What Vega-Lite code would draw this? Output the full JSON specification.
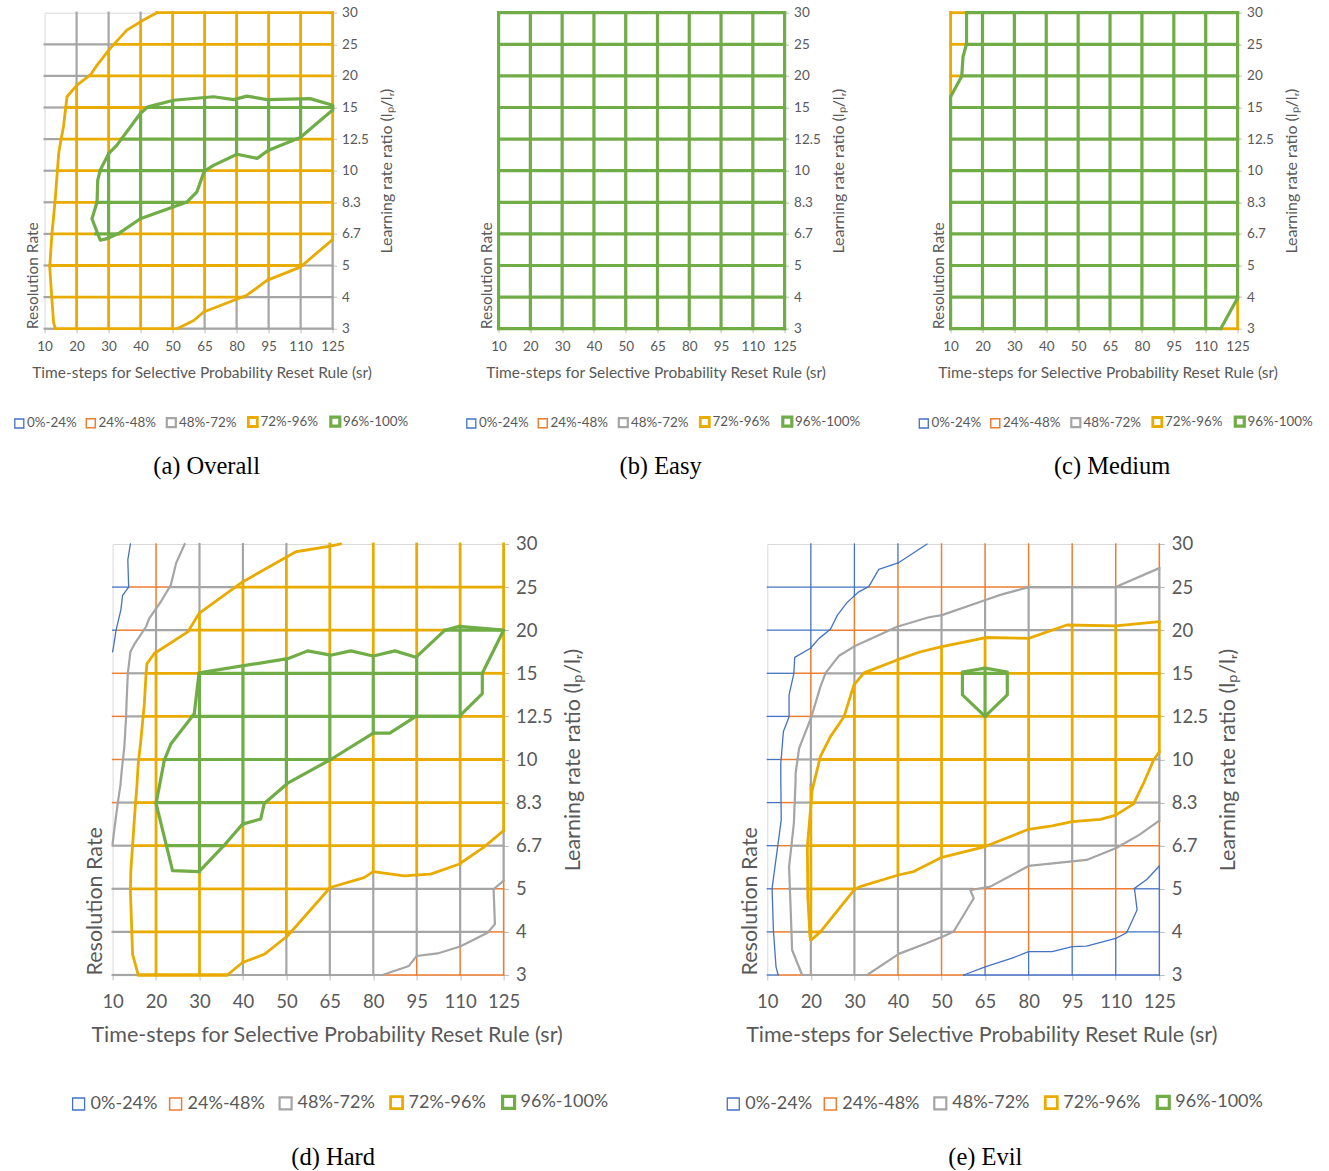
{
"$schema":"https://vega.github.io/schema/vega-lite/v6.json",
"padding":{"left":11.6,"top":4.7,"right":0,"bottom":0},
"background":"white",
"bounds":"flush",
"spacing":531.3,
"resolve":{"legend":{"color":"independent","strokeWidth":"independent"}},
"datasets":{
"ga":[
{"o":"h","k":0,"s":0,"e":0.33,"b":"G"},{"o":"h","k":0,"s":0.33,"e":4.14,"b":"Y"},{"o":"h","k":0,"s":4.14,"e":9,"b":"G"},
{"o":"h","k":1,"s":0,"e":0.25,"b":"G"},{"o":"h","k":1,"s":0.25,"e":6.25,"b":"Y"},{"o":"h","k":1,"s":6.25,"e":9,"b":"G"},
{"o":"h","k":2,"s":0,"e":0.16,"b":"G"},{"o":"h","k":2,"s":0.16,"e":8.05,"b":"Y"},{"o":"h","k":2,"s":8.05,"e":9,"b":"G"},
{"o":"h","k":3,"s":0,"e":0.23,"b":"G"},{"o":"h","k":3,"s":0.23,"e":1.6,"b":"Y"},{"o":"h","k":3,"s":1.6,"e":2.3,"b":"V"},{"o":"h","k":3,"s":2.3,"e":9,"b":"Y"},
{"o":"h","k":4,"s":0,"e":0.31,"b":"G"},{"o":"h","k":4,"s":0.31,"e":1.64,"b":"Y"},{"o":"h","k":4,"s":1.64,"e":4.45,"b":"V"},{"o":"h","k":4,"s":4.45,"e":9,"b":"Y"},
{"o":"h","k":5,"s":0,"e":0.4,"b":"G"},{"o":"h","k":5,"s":0.4,"e":1.74,"b":"Y"},{"o":"h","k":5,"s":1.74,"e":4.99,"b":"V"},{"o":"h","k":5,"s":4.99,"e":9,"b":"Y"},
{"o":"h","k":6,"s":0,"e":0.52,"b":"G"},{"o":"h","k":6,"s":0.52,"e":2.4,"b":"Y"},{"o":"h","k":6,"s":2.4,"e":7.9,"b":"V"},{"o":"h","k":6,"s":7.9,"e":9,"b":"Y"},
{"o":"h","k":7,"s":0,"e":0.66,"b":"G"},{"o":"h","k":7,"s":0.66,"e":3.2,"b":"Y"},{"o":"h","k":7,"s":3.2,"e":9,"b":"V"},
{"o":"h","k":8,"s":0,"e":1.41,"b":"G"},{"o":"h","k":8,"s":1.41,"e":9,"b":"Y"},
{"o":"h","k":9,"s":0,"e":2.17,"b":"G"},{"o":"h","k":9,"s":2.17,"e":9,"b":"Y"},
{"o":"h","k":10,"s":3.51,"e":9,"b":"Y"},
{"o":"v","k":1,"s":0,"e":7.71,"b":"Y"},{"o":"v","k":1,"s":7.71,"e":10,"b":"G"},
{"o":"v","k":2,"s":0,"e":2.87,"b":"Y"},{"o":"v","k":2,"s":2.87,"e":5.54,"b":"V"},{"o":"v","k":2,"s":5.54,"e":8.8,"b":"Y"},{"o":"v","k":2,"s":8.8,"e":10,"b":"G"},
{"o":"v","k":3,"s":0,"e":3.48,"b":"Y"},{"o":"v","k":3,"s":3.48,"e":6.85,"b":"V"},{"o":"v","k":3,"s":6.85,"e":9.7,"b":"Y"},{"o":"v","k":3,"s":9.7,"e":10,"b":"G"},
{"o":"v","k":4,"s":0,"e":3.85,"b":"Y"},{"o":"v","k":4,"s":3.85,"e":7.22,"b":"V"},{"o":"v","k":4,"s":7.22,"e":10,"b":"Y"},
{"o":"v","k":5,"s":0,"e":0.55,"b":"G"},{"o":"v","k":5,"s":0.55,"e":5.0,"b":"Y"},{"o":"v","k":5,"s":5.0,"e":7.31,"b":"V"},{"o":"v","k":5,"s":7.31,"e":10,"b":"Y"},
{"o":"v","k":6,"s":0,"e":0.93,"b":"G"},{"o":"v","k":6,"s":0.93,"e":5.52,"b":"Y"},{"o":"v","k":6,"s":5.52,"e":7.26,"b":"V"},{"o":"v","k":6,"s":7.26,"e":10,"b":"Y"},
{"o":"v","k":7,"s":0,"e":1.57,"b":"G"},{"o":"v","k":7,"s":1.57,"e":5.65,"b":"Y"},{"o":"v","k":7,"s":5.65,"e":7.25,"b":"V"},{"o":"v","k":7,"s":7.25,"e":10,"b":"Y"},
{"o":"v","k":8,"s":0,"e":1.96,"b":"G"},{"o":"v","k":8,"s":1.96,"e":6.05,"b":"Y"},{"o":"v","k":8,"s":6.05,"e":7.28,"b":"V"},{"o":"v","k":8,"s":7.28,"e":10,"b":"Y"},
{"o":"v","k":9,"s":0,"e":2.82,"b":"G"},{"o":"v","k":9,"s":2.82,"e":6.92,"b":"Y"},{"o":"v","k":9,"s":6.92,"e":7.07,"b":"V"},{"o":"v","k":9,"s":7.07,"e":10,"b":"Y"}
],
"ca":[
{"id":1,"n":0,"x":3.51,"y":10,"b":"Y"},{"id":1,"n":1,"x":3.09,"y":9.77,"b":"Y"},{"id":1,"n":2,"x":2.57,"y":9.45,"b":"Y"},{"id":1,"n":3,"x":2.05,"y":8.87,"b":"Y"},{"id":1,"n":4,"x":1.64,"y":8.34,"b":"Y"},{"id":1,"n":5,"x":1.43,"y":8.03,"b":"Y"},{"id":1,"n":6,"x":1.01,"y":7.71,"b":"Y"},{"id":1,"n":7,"x":0.70,"y":7.34,"b":"Y"},{"id":1,"n":8,"x":0.59,"y":6.39,"b":"Y"},{"id":1,"n":9,"x":0.49,"y":5.86,"b":"Y"},{"id":1,"n":10,"x":0.44,"y":5.54,"b":"Y"},{"id":1,"n":11,"x":0.33,"y":4.07,"b":"Y"},{"id":1,"n":12,"x":0.23,"y":3.01,"b":"Y"},{"id":1,"n":13,"x":0.16,"y":1.95,"b":"Y"},{"id":1,"n":14,"x":0.23,"y":0.90,"b":"Y"},{"id":1,"n":15,"x":0.28,"y":0.21,"b":"Y"},{"id":1,"n":16,"x":0.33,"y":0,"b":"Y"},
{"id":2,"n":0,"x":4.14,"y":0,"b":"Y"},{"id":2,"n":1,"x":4.66,"y":0.26,"b":"Y"},{"id":2,"n":2,"x":4.97,"y":0.53,"b":"Y"},{"id":2,"n":3,"x":6.32,"y":1.06,"b":"Y"},{"id":2,"n":4,"x":6.95,"y":1.53,"b":"Y"},{"id":2,"n":5,"x":7.99,"y":1.95,"b":"Y"},{"id":2,"n":6,"x":9,"y":2.82,"b":"Y"},
{"id":3,"n":0,"x":3.23,"y":7.02,"b":"V"},{"id":3,"n":1,"x":4.03,"y":7.23,"b":"V"},{"id":3,"n":2,"x":5.28,"y":7.34,"b":"V"},{"id":3,"n":3,"x":5.91,"y":7.25,"b":"V"},{"id":3,"n":4,"x":6.32,"y":7.36,"b":"V"},{"id":3,"n":5,"x":6.95,"y":7.25,"b":"V"},{"id":3,"n":6,"x":8.30,"y":7.28,"b":"V"},{"id":3,"n":7,"x":9,"y":7.07,"b":"V"},{"id":3,"n":8,"x":9,"y":6.92,"b":"V"},{"id":3,"n":9,"x":7.99,"y":6.05,"b":"V"},{"id":3,"n":10,"x":7.0,"y":5.65,"b":"V"},{"id":3,"n":11,"x":6.64,"y":5.39,"b":"V"},{"id":3,"n":12,"x":6.01,"y":5.52,"b":"V"},{"id":3,"n":13,"x":5.28,"y":5.17,"b":"V"},{"id":3,"n":14,"x":4.99,"y":4.99,"b":"V"},{"id":3,"n":15,"x":4.76,"y":4.33,"b":"V"},{"id":3,"n":16,"x":4.45,"y":4.01,"b":"V"},{"id":3,"n":17,"x":2.99,"y":3.48,"b":"V"},{"id":3,"n":18,"x":2.31,"y":3.01,"b":"V"},{"id":3,"n":19,"x":1.95,"y":2.85,"b":"V"},{"id":3,"n":20,"x":1.74,"y":2.80,"b":"V"},{"id":3,"n":21,"x":1.48,"y":3.48,"b":"V"},{"id":3,"n":22,"x":1.64,"y":4.01,"b":"V"},{"id":3,"n":23,"x":1.66,"y":4.70,"b":"V"},{"id":3,"n":24,"x":1.74,"y":5.02,"b":"V"},{"id":3,"n":25,"x":2.0,"y":5.54,"b":"V"},{"id":3,"n":26,"x":2.26,"y":5.81,"b":"V"},{"id":3,"n":27,"x":2.99,"y":6.81,"b":"V"},{"id":3,"n":28,"x":3.23,"y":7.02,"b":"V"}
],
"gb":[
{"o":"h","k":0,"s":0,"e":9,"b":"V"},{"o":"h","k":1,"s":0,"e":9,"b":"V"},{"o":"h","k":2,"s":0,"e":9,"b":"V"},{"o":"h","k":3,"s":0,"e":9,"b":"V"},{"o":"h","k":4,"s":0,"e":9,"b":"V"},{"o":"h","k":5,"s":0,"e":9,"b":"V"},{"o":"h","k":6,"s":0,"e":9,"b":"V"},{"o":"h","k":7,"s":0,"e":9,"b":"V"},{"o":"h","k":8,"s":0,"e":9,"b":"V"},{"o":"h","k":9,"s":0,"e":9,"b":"V"},{"o":"h","k":10,"s":0,"e":9,"b":"V"},
{"o":"v","k":0,"s":0,"e":10,"b":"V"},{"o":"v","k":1,"s":0,"e":10,"b":"V"},{"o":"v","k":2,"s":0,"e":10,"b":"V"},{"o":"v","k":3,"s":0,"e":10,"b":"V"},{"o":"v","k":4,"s":0,"e":10,"b":"V"},{"o":"v","k":5,"s":0,"e":10,"b":"V"},{"o":"v","k":6,"s":0,"e":10,"b":"V"},{"o":"v","k":7,"s":0,"e":10,"b":"V"},{"o":"v","k":8,"s":0,"e":10,"b":"V"},{"o":"v","k":9,"s":0,"e":10,"b":"V"}
],
"gc":[
{"o":"h","k":0,"s":0,"e":8.47,"b":"V"},{"o":"h","k":0,"s":8.47,"e":9,"b":"Y"},
{"o":"h","k":1,"s":0,"e":9,"b":"V"},{"o":"h","k":2,"s":0,"e":9,"b":"V"},{"o":"h","k":3,"s":0,"e":9,"b":"V"},{"o":"h","k":4,"s":0,"e":9,"b":"V"},{"o":"h","k":5,"s":0,"e":9,"b":"V"},{"o":"h","k":6,"s":0,"e":9,"b":"V"},{"o":"h","k":7,"s":0,"e":9,"b":"V"},
{"o":"h","k":8,"s":0,"e":0.36,"b":"Y"},{"o":"h","k":8,"s":0.36,"e":9,"b":"V"},
{"o":"h","k":9,"s":0,"e":0.5,"b":"Y"},{"o":"h","k":9,"s":0.5,"e":9,"b":"V"},
{"o":"h","k":10,"s":0,"e":0.5,"b":"Y"},{"o":"h","k":10,"s":0.5,"e":9,"b":"V"},
{"o":"v","k":0,"s":0,"e":7.34,"b":"V"},{"o":"v","k":0,"s":7.34,"e":10,"b":"Y"},
{"o":"v","k":1,"s":0,"e":10,"b":"V"},{"o":"v","k":2,"s":0,"e":10,"b":"V"},{"o":"v","k":3,"s":0,"e":10,"b":"V"},{"o":"v","k":4,"s":0,"e":10,"b":"V"},{"o":"v","k":5,"s":0,"e":10,"b":"V"},{"o":"v","k":6,"s":0,"e":10,"b":"V"},{"o":"v","k":7,"s":0,"e":10,"b":"V"},{"o":"v","k":8,"s":0,"e":10,"b":"V"},
{"o":"v","k":9,"s":0,"e":0.97,"b":"Y"},{"o":"v","k":9,"s":0.97,"e":10,"b":"V"}
],
"cc":[
{"id":1,"n":0,"x":0,"y":7.34,"b":"V"},{"id":1,"n":1,"x":0.35,"y":7.99,"b":"V"},{"id":1,"n":2,"x":0.39,"y":8.61,"b":"V"},{"id":1,"n":3,"x":0.5,"y":9.01,"b":"V"},{"id":1,"n":4,"x":0.5,"y":10,"b":"V"},
{"id":2,"n":0,"x":8.47,"y":0,"b":"V"},{"id":2,"n":1,"x":9,"y":0.97,"b":"V"}
],
"gd":[
{"o":"h","k":0,"s":0,"e":0.59,"b":"G"},{"o":"h","k":0,"s":0.59,"e":2.64,"b":"Y"},{"o":"h","k":0,"s":2.64,"e":6.21,"b":"G"},{"o":"h","k":0,"s":6.21,"e":9,"b":"R"},
{"o":"h","k":1,"s":0,"e":0.44,"b":"G"},{"o":"h","k":1,"s":0.44,"e":4.11,"b":"Y"},{"o":"h","k":1,"s":4.11,"e":8.65,"b":"G"},{"o":"h","k":1,"s":8.65,"e":9,"b":"R"},
{"o":"h","k":2,"s":0,"e":0.42,"b":"G"},{"o":"h","k":2,"s":0.42,"e":5.0,"b":"Y"},{"o":"h","k":2,"s":5.0,"e":8.78,"b":"G"},{"o":"h","k":2,"s":8.78,"e":9,"b":"R"},
{"o":"h","k":3,"s":0,"e":0.46,"b":"G"},{"o":"h","k":3,"s":0.46,"e":1.24,"b":"Y"},{"o":"h","k":3,"s":1.24,"e":2.56,"b":"V"},{"o":"h","k":3,"s":2.56,"e":8.58,"b":"Y"},{"o":"h","k":3,"s":8.58,"e":9,"b":"G"},
{"o":"h","k":4,"s":0,"e":0.12,"b":"R"},{"o":"h","k":4,"s":0.12,"e":0.52,"b":"G"},{"o":"h","k":4,"s":0.52,"e":1.0,"b":"Y"},{"o":"h","k":4,"s":1.0,"e":3.49,"b":"V"},{"o":"h","k":4,"s":3.49,"e":9,"b":"Y"},
{"o":"h","k":5,"s":0,"e":0.24,"b":"R"},{"o":"h","k":5,"s":0.24,"e":0.60,"b":"G"},{"o":"h","k":5,"s":0.60,"e":1.19,"b":"Y"},{"o":"h","k":5,"s":1.19,"e":5.02,"b":"V"},{"o":"h","k":5,"s":5.02,"e":9,"b":"Y"},
{"o":"h","k":6,"s":0,"e":0.31,"b":"R"},{"o":"h","k":6,"s":0.31,"e":0.70,"b":"G"},{"o":"h","k":6,"s":0.70,"e":1.83,"b":"Y"},{"o":"h","k":6,"s":1.83,"e":7.98,"b":"V"},{"o":"h","k":6,"s":7.98,"e":9,"b":"Y"},
{"o":"h","k":7,"s":0,"e":0.35,"b":"R"},{"o":"h","k":7,"s":0.35,"e":0.77,"b":"G"},{"o":"h","k":7,"s":0.77,"e":1.99,"b":"Y"},{"o":"h","k":7,"s":1.99,"e":8.51,"b":"V"},{"o":"h","k":7,"s":8.51,"e":9,"b":"Y"},
{"o":"h","k":8,"s":0,"e":0.08,"b":"B"},{"o":"h","k":8,"s":0.08,"e":0.72,"b":"R"},{"o":"h","k":8,"s":0.72,"e":1.76,"b":"G"},{"o":"h","k":8,"s":1.76,"e":7.65,"b":"Y"},{"o":"h","k":8,"s":7.65,"e":9,"b":"V"},
{"o":"h","k":9,"s":0,"e":0.37,"b":"B"},{"o":"h","k":9,"s":0.37,"e":1.30,"b":"R"},{"o":"h","k":9,"s":1.30,"e":2.83,"b":"G"},{"o":"h","k":9,"s":2.83,"e":9,"b":"Y"},
{"o":"v","k":1,"s":0,"e":7.49,"b":"Y"},{"o":"v","k":1,"s":7.49,"e":8.5,"b":"G"},{"o":"v","k":1,"s":8.5,"e":10,"b":"R"},
{"o":"v","k":2,"s":0,"e":2.4,"b":"Y"},{"o":"v","k":2,"s":2.4,"e":7.01,"b":"V"},{"o":"v","k":2,"s":7.01,"e":8.4,"b":"Y"},{"o":"v","k":2,"s":8.4,"e":10,"b":"G"},
{"o":"v","k":3,"s":0,"e":0.29,"b":"G"},{"o":"v","k":3,"s":0.29,"e":3.5,"b":"Y"},{"o":"v","k":3,"s":3.5,"e":7.17,"b":"V"},{"o":"v","k":3,"s":7.17,"e":9.12,"b":"Y"},{"o":"v","k":3,"s":9.12,"e":10,"b":"G"},
{"o":"v","k":4,"s":0,"e":0.89,"b":"G"},{"o":"v","k":4,"s":0.89,"e":4.42,"b":"Y"},{"o":"v","k":4,"s":4.42,"e":7.34,"b":"V"},{"o":"v","k":4,"s":7.34,"e":9.7,"b":"Y"},{"o":"v","k":4,"s":9.7,"e":10,"b":"G"},
{"o":"v","k":5,"s":0,"e":2.03,"b":"G"},{"o":"v","k":5,"s":2.03,"e":5.0,"b":"Y"},{"o":"v","k":5,"s":5.0,"e":7.42,"b":"V"},{"o":"v","k":5,"s":7.42,"e":10,"b":"Y"},
{"o":"v","k":6,"s":0,"e":2.40,"b":"G"},{"o":"v","k":6,"s":2.40,"e":5.61,"b":"Y"},{"o":"v","k":6,"s":5.61,"e":7.40,"b":"V"},{"o":"v","k":6,"s":7.40,"e":10,"b":"Y"},
{"o":"v","k":7,"s":0,"e":0.44,"b":"R"},{"o":"v","k":7,"s":0.44,"e":2.32,"b":"G"},{"o":"v","k":7,"s":2.32,"e":6.0,"b":"Y"},{"o":"v","k":7,"s":6.0,"e":7.38,"b":"V"},{"o":"v","k":7,"s":7.38,"e":10,"b":"Y"},
{"o":"v","k":8,"s":0,"e":0.66,"b":"R"},{"o":"v","k":8,"s":0.66,"e":2.57,"b":"G"},{"o":"v","k":8,"s":2.57,"e":6.0,"b":"Y"},{"o":"v","k":8,"s":6.0,"e":8.09,"b":"V"},{"o":"v","k":8,"s":8.09,"e":10,"b":"Y"},
{"o":"v","k":9,"s":0,"e":2.19,"b":"R"},{"o":"v","k":9,"s":2.19,"e":3.35,"b":"G"},{"o":"v","k":9,"s":3.35,"e":10,"b":"Y"}
],
"cd":[
{"id":1,"n":0,"x":0.41,"y":10,"b":"B"},{"id":1,"n":1,"x":0.35,"y":9.63,"b":"B"},{"id":1,"n":2,"x":0.37,"y":9.0,"b":"B"},{"id":1,"n":3,"x":0.23,"y":8.81,"b":"B"},{"id":1,"n":4,"x":0.19,"y":8.47,"b":"B"},{"id":1,"n":5,"x":0.08,"y":8.0,"b":"B"},{"id":1,"n":6,"x":0.02,"y":7.61,"b":"B"},{"id":1,"n":7,"x":0,"y":7.5,"b":"B"},
{"id":2,"n":0,"x":1.66,"y":10,"b":"G"},{"id":2,"n":1,"x":1.46,"y":9.55,"b":"G"},{"id":2,"n":2,"x":1.34,"y":9.05,"b":"G"},{"id":2,"n":3,"x":1.11,"y":8.66,"b":"G"},{"id":2,"n":4,"x":0.84,"y":8.27,"b":"G"},{"id":2,"n":5,"x":0.77,"y":8.08,"b":"G"},{"id":2,"n":6,"x":0.51,"y":7.69,"b":"G"},{"id":2,"n":7,"x":0.41,"y":7.50,"b":"G"},{"id":2,"n":8,"x":0.35,"y":6.99,"b":"G"},{"id":2,"n":9,"x":0.32,"y":6.29,"b":"G"},{"id":2,"n":10,"x":0.31,"y":5.98,"b":"G"},{"id":2,"n":11,"x":0.27,"y":5.29,"b":"G"},{"id":2,"n":12,"x":0.21,"y":4.74,"b":"G"},{"id":2,"n":13,"x":0.18,"y":4.4,"b":"G"},{"id":2,"n":14,"x":0.12,"y":4.0,"b":"G"},{"id":2,"n":15,"x":0.03,"y":3.3,"b":"G"},{"id":2,"n":16,"x":0,"y":3.04,"b":"G"},
{"id":3,"n":0,"x":5.25,"y":10,"b":"Y"},{"id":3,"n":1,"x":5.01,"y":9.95,"b":"Y"},{"id":3,"n":2,"x":4.22,"y":9.82,"b":"Y"},{"id":3,"n":3,"x":2.99,"y":9.12,"b":"Y"},{"id":3,"n":4,"x":1.99,"y":8.39,"b":"Y"},{"id":3,"n":5,"x":1.73,"y":7.96,"b":"Y"},{"id":3,"n":6,"x":0.96,"y":7.46,"b":"Y"},{"id":3,"n":7,"x":0.79,"y":7.22,"b":"Y"},{"id":3,"n":8,"x":0.77,"y":6.99,"b":"Y"},{"id":3,"n":9,"x":0.73,"y":6.29,"b":"Y"},{"id":3,"n":10,"x":0.65,"y":5.44,"b":"Y"},{"id":3,"n":11,"x":0.59,"y":4.9,"b":"Y"},{"id":3,"n":12,"x":0.56,"y":4.4,"b":"Y"},{"id":3,"n":13,"x":0.51,"y":3.74,"b":"Y"},{"id":3,"n":14,"x":0.42,"y":2.42,"b":"Y"},{"id":3,"n":15,"x":0.41,"y":1.95,"b":"Y"},{"id":3,"n":16,"x":0.46,"y":0.48,"b":"Y"},{"id":3,"n":17,"x":0.59,"y":0,"b":"Y"},{"id":3,"n":18,"x":2.64,"y":0,"b":"Y"},{"id":3,"n":19,"x":2.99,"y":0.29,"b":"Y"},{"id":3,"n":20,"x":3.49,"y":0.48,"b":"Y"},{"id":3,"n":21,"x":4.03,"y":0.91,"b":"Y"},{"id":3,"n":22,"x":5.01,"y":2.03,"b":"Y"},{"id":3,"n":23,"x":5.79,"y":2.26,"b":"Y"},{"id":3,"n":24,"x":6.0,"y":2.40,"b":"Y"},{"id":3,"n":25,"x":6.71,"y":2.30,"b":"Y"},{"id":3,"n":26,"x":7.32,"y":2.34,"b":"Y"},{"id":3,"n":27,"x":7.97,"y":2.57,"b":"Y"},{"id":3,"n":28,"x":8.54,"y":2.96,"b":"Y"},{"id":3,"n":29,"x":9.0,"y":3.35,"b":"Y"},
{"id":4,"n":0,"x":3.49,"y":3.98,"b":"V"},{"id":4,"n":1,"x":4.03,"y":4.45,"b":"V"},{"id":4,"n":2,"x":5.02,"y":5.0,"b":"V"},{"id":4,"n":3,"x":6.0,"y":5.61,"b":"V"},{"id":4,"n":4,"x":6.38,"y":5.61,"b":"V"},{"id":4,"n":5,"x":6.98,"y":6.0,"b":"V"},{"id":4,"n":6,"x":7.98,"y":6.0,"b":"V"},{"id":4,"n":7,"x":8.51,"y":6.53,"b":"V"},{"id":4,"n":8,"x":8.51,"y":7.0,"b":"V"},{"id":4,"n":9,"x":9.0,"y":8.0,"b":"V"},{"id":4,"n":10,"x":7.98,"y":8.09,"b":"V"},{"id":4,"n":11,"x":7.65,"y":8.0,"b":"V"},{"id":4,"n":12,"x":6.98,"y":7.37,"b":"V"},{"id":4,"n":13,"x":6.5,"y":7.52,"b":"V"},{"id":4,"n":14,"x":6.0,"y":7.40,"b":"V"},{"id":4,"n":15,"x":5.48,"y":7.52,"b":"V"},{"id":4,"n":16,"x":5.02,"y":7.42,"b":"V"},{"id":4,"n":17,"x":4.49,"y":7.52,"b":"V"},{"id":4,"n":18,"x":4.03,"y":7.34,"b":"V"},{"id":4,"n":19,"x":1.99,"y":7.01,"b":"V"},{"id":4,"n":20,"x":1.88,"y":6.06,"b":"V"},{"id":4,"n":21,"x":1.34,"y":5.36,"b":"V"},{"id":4,"n":22,"x":1.19,"y":4.98,"b":"V"},{"id":4,"n":23,"x":1.0,"y":3.98,"b":"V"},{"id":4,"n":24,"x":1.38,"y":2.42,"b":"V"},{"id":4,"n":25,"x":1.99,"y":2.4,"b":"V"},{"id":4,"n":26,"x":2.56,"y":3.0,"b":"V"},{"id":4,"n":27,"x":2.99,"y":3.5,"b":"V"},{"id":4,"n":28,"x":3.41,"y":3.62,"b":"V"},{"id":4,"n":29,"x":3.49,"y":3.98,"b":"V"},
{"id":5,"n":0,"x":6.21,"y":0,"b":"G"},{"id":5,"n":1,"x":6.82,"y":0.21,"b":"G"},{"id":5,"n":2,"x":7.0,"y":0.44,"b":"G"},{"id":5,"n":3,"x":7.48,"y":0.50,"b":"G"},{"id":5,"n":4,"x":8.0,"y":0.66,"b":"G"},{"id":5,"n":5,"x":8.63,"y":0.98,"b":"G"},{"id":5,"n":6,"x":8.8,"y":1.18,"b":"G"},{"id":5,"n":7,"x":8.77,"y":1.99,"b":"G"},{"id":5,"n":8,"x":9.0,"y":2.19,"b":"G"}
],
"ge":[
{"o":"h","k":0,"s":0,"e":0.25,"b":"B"},{"o":"h","k":0,"s":0.25,"e":0.80,"b":"R"},{"o":"h","k":0,"s":0.80,"e":2.29,"b":"G"},{"o":"h","k":0,"s":2.29,"e":4.51,"b":"R"},{"o":"h","k":0,"s":4.51,"e":9,"b":"B"},
{"o":"h","k":1,"s":0,"e":0.14,"b":"B"},{"o":"h","k":1,"s":0.14,"e":0.56,"b":"R"},{"o":"h","k":1,"s":0.56,"e":0.97,"b":"G"},{"o":"h","k":1,"s":0.97,"e":1.22,"b":"Y"},{"o":"h","k":1,"s":1.22,"e":4.28,"b":"G"},{"o":"h","k":1,"s":4.28,"e":8.25,"b":"R"},{"o":"h","k":1,"s":8.25,"e":9,"b":"B"},
{"o":"h","k":2,"s":0,"e":0.11,"b":"B"},{"o":"h","k":2,"s":0.11,"e":0.50,"b":"R"},{"o":"h","k":2,"s":0.50,"e":0.93,"b":"G"},{"o":"h","k":2,"s":0.93,"e":1.99,"b":"Y"},{"o":"h","k":2,"s":1.99,"e":4.7,"b":"G"},{"o":"h","k":2,"s":4.7,"e":8.43,"b":"R"},{"o":"h","k":2,"s":8.43,"e":9,"b":"B"},
{"o":"h","k":3,"s":0,"e":0.23,"b":"B"},{"o":"h","k":3,"s":0.23,"e":0.56,"b":"R"},{"o":"h","k":3,"s":0.56,"e":0.92,"b":"G"},{"o":"h","k":3,"s":0.92,"e":5.0,"b":"Y"},{"o":"h","k":3,"s":5.0,"e":8.05,"b":"G"},{"o":"h","k":3,"s":8.05,"e":9,"b":"R"},
{"o":"h","k":4,"s":0,"e":0.31,"b":"B"},{"o":"h","k":4,"s":0.31,"e":0.64,"b":"R"},{"o":"h","k":4,"s":0.64,"e":1.0,"b":"G"},{"o":"h","k":4,"s":1.0,"e":8.43,"b":"Y"},{"o":"h","k":4,"s":8.43,"e":9,"b":"G"},
{"o":"h","k":5,"s":0,"e":0.31,"b":"B"},{"o":"h","k":5,"s":0.31,"e":0.69,"b":"R"},{"o":"h","k":5,"s":0.69,"e":1.19,"b":"G"},{"o":"h","k":5,"s":1.19,"e":8.87,"b":"Y"},{"o":"h","k":5,"s":8.87,"e":9,"b":"G"},
{"o":"h","k":6,"s":0,"e":0.50,"b":"B"},{"o":"h","k":6,"s":0.50,"e":1.01,"b":"R"},{"o":"h","k":6,"s":1.01,"e":1.76,"b":"G"},{"o":"h","k":6,"s":1.76,"e":9,"b":"Y"},
{"o":"h","k":7,"s":0,"e":0.61,"b":"B"},{"o":"h","k":7,"s":0.61,"e":1.34,"b":"R"},{"o":"h","k":7,"s":1.34,"e":2.22,"b":"G"},{"o":"h","k":7,"s":2.22,"e":4.48,"b":"Y"},{"o":"h","k":7,"s":4.48,"e":5.51,"b":"V"},{"o":"h","k":7,"s":5.51,"e":9,"b":"Y"},
{"o":"h","k":8,"s":0,"e":1.45,"b":"B"},{"o":"h","k":8,"s":1.45,"e":2.81,"b":"R"},{"o":"h","k":8,"s":2.81,"e":9,"b":"G"},
{"o":"h","k":9,"s":0,"e":2.33,"b":"B"},{"o":"h","k":9,"s":2.33,"e":6.0,"b":"R"},{"o":"h","k":9,"s":6.0,"e":9,"b":"G"},
{"o":"v","k":1,"s":0,"e":0.82,"b":"G"},{"o":"v","k":1,"s":0.82,"e":4.4,"b":"Y"},{"o":"v","k":1,"s":4.4,"e":5.98,"b":"G"},{"o":"v","k":1,"s":5.98,"e":7.58,"b":"R"},{"o":"v","k":1,"s":7.58,"e":10,"b":"B"},
{"o":"v","k":2,"s":0,"e":1.97,"b":"G"},{"o":"v","k":2,"s":1.97,"e":6.73,"b":"Y"},{"o":"v","k":2,"s":6.73,"e":7.62,"b":"G"},{"o":"v","k":2,"s":7.62,"e":8.8,"b":"R"},{"o":"v","k":2,"s":8.8,"e":10,"b":"B"},
{"o":"v","k":3,"s":0,"e":0.48,"b":"R"},{"o":"v","k":3,"s":0.48,"e":2.32,"b":"G"},{"o":"v","k":3,"s":2.32,"e":7.31,"b":"Y"},{"o":"v","k":3,"s":7.31,"e":8.1,"b":"G"},{"o":"v","k":3,"s":8.1,"e":9.55,"b":"R"},{"o":"v","k":3,"s":9.55,"e":10,"b":"B"},
{"o":"v","k":4,"s":0,"e":0.88,"b":"R"},{"o":"v","k":4,"s":0.88,"e":2.73,"b":"G"},{"o":"v","k":4,"s":2.73,"e":7.62,"b":"Y"},{"o":"v","k":4,"s":7.62,"e":8.35,"b":"G"},{"o":"v","k":4,"s":8.35,"e":10,"b":"R"},
{"o":"v","k":5,"s":0,"e":0.19,"b":"B"},{"o":"v","k":5,"s":0.19,"e":2.03,"b":"R"},{"o":"v","k":5,"s":2.03,"e":2.98,"b":"G"},{"o":"v","k":5,"s":2.98,"e":6.0,"b":"Y"},{"o":"v","k":5,"s":6.0,"e":7.12,"b":"V"},{"o":"v","k":5,"s":7.12,"e":7.83,"b":"Y"},{"o":"v","k":5,"s":7.83,"e":8.70,"b":"G"},{"o":"v","k":5,"s":8.70,"e":10,"b":"R"},
{"o":"v","k":6,"s":0,"e":0.54,"b":"B"},{"o":"v","k":6,"s":0.54,"e":2.53,"b":"R"},{"o":"v","k":6,"s":2.53,"e":3.38,"b":"G"},{"o":"v","k":6,"s":3.38,"e":7.81,"b":"Y"},{"o":"v","k":6,"s":7.81,"e":9.0,"b":"G"},{"o":"v","k":6,"s":9.0,"e":10,"b":"R"},
{"o":"v","k":7,"s":0,"e":0.66,"b":"B"},{"o":"v","k":7,"s":0.66,"e":2.64,"b":"R"},{"o":"v","k":7,"s":2.64,"e":3.56,"b":"G"},{"o":"v","k":7,"s":3.56,"e":8.12,"b":"Y"},{"o":"v","k":7,"s":8.12,"e":9.0,"b":"G"},{"o":"v","k":7,"s":9.0,"e":10,"b":"R"},
{"o":"v","k":8,"s":0,"e":0.85,"b":"B"},{"o":"v","k":8,"s":0.85,"e":2.94,"b":"R"},{"o":"v","k":8,"s":2.94,"e":3.71,"b":"G"},{"o":"v","k":8,"s":3.71,"e":8.10,"b":"Y"},{"o":"v","k":8,"s":8.10,"e":9.0,"b":"G"},{"o":"v","k":8,"s":9.0,"e":10,"b":"R"},
{"o":"v","k":9,"s":0,"e":2.53,"b":"B"},{"o":"v","k":9,"s":2.53,"e":3.58,"b":"R"},{"o":"v","k":9,"s":3.58,"e":5.18,"b":"G"},{"o":"v","k":9,"s":5.18,"e":8.20,"b":"Y"},{"o":"v","k":9,"s":8.20,"e":9.44,"b":"G"},{"o":"v","k":9,"s":9.44,"e":10,"b":"R"}
],
"ce":[
{"id":1,"n":0,"x":3.67,"y":10,"b":"B"},{"id":1,"n":1,"x":3.02,"y":9.57,"b":"B"},{"id":1,"n":2,"x":2.56,"y":9.41,"b":"B"},{"id":1,"n":3,"x":2.33,"y":9.01,"b":"B"},{"id":1,"n":4,"x":2.10,"y":8.89,"b":"B"},{"id":1,"n":5,"x":1.83,"y":8.64,"b":"B"},{"id":1,"n":6,"x":1.61,"y":8.35,"b":"B"},{"id":1,"n":7,"x":1.45,"y":8.02,"b":"B"},{"id":1,"n":8,"x":1.19,"y":7.81,"b":"B"},{"id":1,"n":9,"x":0.99,"y":7.58,"b":"B"},{"id":1,"n":10,"x":0.63,"y":7.37,"b":"B"},{"id":1,"n":11,"x":0.61,"y":7.0,"b":"B"},{"id":1,"n":12,"x":0.50,"y":6.50,"b":"B"},{"id":1,"n":13,"x":0.50,"y":5.99,"b":"B"},{"id":1,"n":14,"x":0.37,"y":5.65,"b":"B"},{"id":1,"n":15,"x":0.31,"y":4.91,"b":"B"},{"id":1,"n":16,"x":0.31,"y":4.52,"b":"B"},{"id":1,"n":17,"x":0.32,"y":3.6,"b":"B"},{"id":1,"n":18,"x":0.11,"y":2.01,"b":"B"},{"id":1,"n":19,"x":0.14,"y":1.04,"b":"B"},{"id":1,"n":20,"x":0.20,"y":0.19,"b":"B"},{"id":1,"n":21,"x":0.25,"y":0,"b":"B"},
{"id":2,"n":0,"x":9,"y":9.44,"b":"G"},{"id":2,"n":1,"x":8.0,"y":9.0,"b":"G"},{"id":2,"n":2,"x":6.0,"y":9.0,"b":"G"},{"id":2,"n":3,"x":5.35,"y":8.82,"b":"G"},{"id":2,"n":4,"x":5.01,"y":8.70,"b":"G"},{"id":2,"n":5,"x":4.01,"y":8.35,"b":"G"},{"id":2,"n":6,"x":3.71,"y":8.30,"b":"G"},{"id":2,"n":7,"x":2.98,"y":8.08,"b":"G"},{"id":2,"n":8,"x":1.99,"y":7.62,"b":"G"},{"id":2,"n":9,"x":1.64,"y":7.40,"b":"G"},{"id":2,"n":10,"x":1.34,"y":7.01,"b":"G"},{"id":2,"n":11,"x":1.22,"y":6.69,"b":"G"},{"id":2,"n":12,"x":1.01,"y":5.98,"b":"G"},{"id":2,"n":13,"x":0.73,"y":5.26,"b":"G"},{"id":2,"n":14,"x":0.65,"y":4.68,"b":"G"},{"id":2,"n":15,"x":0.65,"y":4.52,"b":"G"},{"id":2,"n":16,"x":0.61,"y":3.52,"b":"G"},{"id":2,"n":17,"x":0.50,"y":2.51,"b":"G"},{"id":2,"n":18,"x":0.54,"y":1.43,"b":"G"},{"id":2,"n":19,"x":0.57,"y":0.58,"b":"G"},{"id":2,"n":20,"x":0.80,"y":0,"b":"G"},
{"id":3,"n":0,"x":9,"y":8.20,"b":"Y"},{"id":3,"n":1,"x":8.0,"y":8.10,"b":"Y"},{"id":3,"n":2,"x":6.88,"y":8.12,"b":"Y"},{"id":3,"n":3,"x":6.0,"y":7.81,"b":"Y"},{"id":3,"n":4,"x":5.01,"y":7.83,"b":"Y"},{"id":3,"n":5,"x":4.74,"y":7.77,"b":"Y"},{"id":3,"n":6,"x":4.01,"y":7.62,"b":"Y"},{"id":3,"n":7,"x":3.52,"y":7.50,"b":"Y"},{"id":3,"n":8,"x":2.98,"y":7.31,"b":"Y"},{"id":3,"n":9,"x":2.22,"y":7.01,"b":"Y"},{"id":3,"n":10,"x":1.99,"y":6.73,"b":"Y"},{"id":3,"n":11,"x":1.76,"y":5.99,"b":"Y"},{"id":3,"n":12,"x":1.45,"y":5.53,"b":"Y"},{"id":3,"n":13,"x":1.22,"y":5.07,"b":"Y"},{"id":3,"n":14,"x":1.03,"y":4.29,"b":"Y"},{"id":3,"n":15,"x":0.92,"y":2.98,"b":"Y"},{"id":3,"n":16,"x":0.93,"y":1.82,"b":"Y"},{"id":3,"n":17,"x":0.98,"y":0.89,"b":"Y"},{"id":3,"n":18,"x":1.01,"y":0.81,"b":"Y"},{"id":3,"n":19,"x":1.22,"y":1.0,"b":"Y"},{"id":3,"n":20,"x":1.99,"y":1.97,"b":"Y"},{"id":3,"n":21,"x":2.13,"y":2.05,"b":"Y"},{"id":3,"n":22,"x":3.01,"y":2.32,"b":"Y"},{"id":3,"n":23,"x":3.36,"y":2.40,"b":"Y"},{"id":3,"n":24,"x":4.01,"y":2.73,"b":"Y"},{"id":3,"n":25,"x":5.0,"y":2.98,"b":"Y"},{"id":3,"n":26,"x":6.0,"y":3.38,"b":"Y"},{"id":3,"n":27,"x":6.54,"y":3.46,"b":"Y"},{"id":3,"n":28,"x":7.0,"y":3.56,"b":"Y"},{"id":3,"n":29,"x":7.65,"y":3.61,"b":"Y"},{"id":3,"n":30,"x":8.0,"y":3.71,"b":"Y"},{"id":3,"n":31,"x":8.41,"y":3.97,"b":"Y"},{"id":3,"n":32,"x":8.64,"y":4.45,"b":"Y"},{"id":3,"n":33,"x":8.87,"y":4.99,"b":"Y"},{"id":3,"n":34,"x":9.0,"y":5.18,"b":"Y"},
{"id":4,"n":0,"x":2.29,"y":0,"b":"G"},{"id":4,"n":1,"x":3.02,"y":0.49,"b":"G"},{"id":4,"n":2,"x":3.67,"y":0.74,"b":"G"},{"id":4,"n":3,"x":4.01,"y":0.88,"b":"G"},{"id":4,"n":4,"x":4.28,"y":1.01,"b":"G"},{"id":4,"n":5,"x":4.74,"y":1.78,"b":"G"},{"id":4,"n":6,"x":4.66,"y":1.97,"b":"G"},{"id":4,"n":7,"x":5.0,"y":2.03,"b":"G"},{"id":4,"n":8,"x":5.12,"y":2.05,"b":"G"},{"id":4,"n":9,"x":6.0,"y":2.53,"b":"G"},{"id":4,"n":10,"x":7.33,"y":2.67,"b":"G"},{"id":4,"n":11,"x":8.0,"y":2.94,"b":"G"},{"id":4,"n":12,"x":8.54,"y":3.25,"b":"G"},{"id":4,"n":13,"x":9.0,"y":3.58,"b":"G"},
{"id":5,"n":0,"x":4.51,"y":0,"b":"B"},{"id":5,"n":1,"x":5.0,"y":0.19,"b":"B"},{"id":5,"n":2,"x":5.62,"y":0.39,"b":"B"},{"id":5,"n":3,"x":6.0,"y":0.54,"b":"B"},{"id":5,"n":4,"x":6.54,"y":0.54,"b":"B"},{"id":5,"n":5,"x":7.0,"y":0.66,"b":"B"},{"id":5,"n":6,"x":7.33,"y":0.67,"b":"B"},{"id":5,"n":7,"x":8.0,"y":0.85,"b":"B"},{"id":5,"n":8,"x":8.25,"y":0.98,"b":"B"},{"id":5,"n":9,"x":8.49,"y":1.51,"b":"B"},{"id":5,"n":10,"x":8.43,"y":2.01,"b":"B"},{"id":5,"n":11,"x":8.72,"y":2.22,"b":"B"},{"id":5,"n":12,"x":9.0,"y":2.53,"b":"B"},
{"id":6,"n":0,"x":4.48,"y":7.03,"b":"V"},{"id":6,"n":1,"x":5.0,"y":7.12,"b":"V"},{"id":6,"n":2,"x":5.51,"y":7.03,"b":"V"},{"id":6,"n":3,"x":5.51,"y":6.5,"b":"V"},{"id":6,"n":4,"x":5.0,"y":6.0,"b":"V"},{"id":6,"n":5,"x":4.48,"y":6.5,"b":"V"},{"id":6,"n":6,"x":4.48,"y":7.03,"b":"V"}
]
},
"vconcat":[
{"hconcat":[
{"width":288,"height":316,
 "title":{"text":"(a) Overall","orient":"bottom","anchor":"middle","dx":18,"offset":22,"fontSize":24.5},
 "data":{"name":"ga"},
 "resolve":{"axis":{"y":"independent"}},
 "layer":[
  {"transform":[{"filter":"datum.o=='h'"}],"mark":{"type":"rule","strokeCap":"square"},
   "encoding":{
    "x":{"field":"s","type":"quantitative","scale":{"domain":[0,9],"nice":false,"zero":false},"axis":{"values":[0,1,2,3,4,5,6,7,8,9],"labelExpr":"['10','20','30','40','50','65','80','95','110','125'][datum.value]","title":"Time-steps for Selective Probability Reset Rule (sr)","titleX":157,"labelFontSize":13.5,"titleFontSize":15.5,"tickSize":4,"labelPadding":7,"titlePadding":12,"labelFlush":false,"labelOverlap":false,"labelBound":false}},
    "x2":{"field":"e"},
    "y":{"field":"k","type":"quantitative","scale":{"domain":[0,10],"nice":false,"zero":false},"axis":{"orient":"right","values":[0,1,2,3,4,5,6,7,8,9,10],"labelExpr":"['3','4','5','6.7','8.3','10','12.5','15','20','25','30'][datum.value]","title":"Learning rate ratio (lₚ/lᵣ)","titleAngle":270,"titleBaseline":"top","labelFontSize":13.5,"titleFontSize":16,"tickSize":4,"labelPadding":5,"titlePadding":10,"labelFlush":false,"labelOverlap":false}},
    "color":{"field":"b","type":"nominal","scale":{"domain":["B","R","G","Y","V"],"range":["#4472C4","#ED7D31","#A5A5A5","#E9AB00","#70AD47"]},"legend":{"orient":"none","legendX":-32,"legendY":402,"direction":"horizontal","columns":5,"title":null,"symbolType":"square","symbolSize":81,"symbolFillColor":"#ffffff","labelFontSize":13.4,"labelOffset":1,"columnPadding":5.5,"labelExpr":"datum.label=='B'?'0%-24%':datum.label=='R'?'24%-48%':datum.label=='G'?'48%-72%':datum.label=='Y'?'72%-96%':'96%-100%'"}},
    "strokeWidth":{"field":"b","type":"nominal","scale":{"type":"ordinal","domain":["B","R","G","Y","V"],"range":[1.3,1.5,2.2,2.8,3.2]}}
   }},
  {"transform":[{"filter":"datum.o=='v'"}],"mark":{"type":"rule","strokeCap":"square"},
   "encoding":{
    "x":{"field":"k","type":"quantitative","scale":{"domain":[0,9],"nice":false,"zero":false},"axis":{"values":[0,1,2,3,4,5,6,7,8,9],"labelExpr":"['10','20','30','40','50','65','80','95','110','125'][datum.value]","title":"Time-steps for Selective Probability Reset Rule (sr)","titleX":157,"labelFontSize":13.5,"titleFontSize":15.5,"tickSize":4,"labelPadding":7,"titlePadding":12,"labelFlush":false,"labelOverlap":false,"labelBound":false}},
    "y":{"field":"s","type":"quantitative","axis":{"orient":"left","labels":false,"ticks":false,"title":"Resolution Rate","titleAnchor":"start","titleFontSize":15.5,"titlePadding":4}},
    "y2":{"field":"e"},
    "color":{"field":"b","type":"nominal","scale":{"domain":["B","R","G","Y","V"],"range":["#4472C4","#ED7D31","#A5A5A5","#E9AB00","#70AD47"]}},
    "strokeWidth":{"field":"b","type":"nominal","scale":{"type":"ordinal","domain":["B","R","G","Y","V"],"range":[1.3,1.5,2.2,2.8,3.2]}}
   }},
  {"data":{"name":"ca"},"mark":{"type":"line","strokeJoin":"round","strokeCap":"round"},
   "encoding":{
    "x":{"field":"x","type":"quantitative","scale":{"domain":[0,9],"nice":false,"zero":false},"axis":{"values":[0,1,2,3,4,5,6,7,8,9],"labelExpr":"['10','20','30','40','50','65','80','95','110','125'][datum.value]","title":"Time-steps for Selective Probability Reset Rule (sr)","titleX":157,"labelFontSize":13.5,"titleFontSize":15.5,"tickSize":4,"labelPadding":7,"titlePadding":12,"labelFlush":false,"labelOverlap":false,"labelBound":false}},
    "y":{"field":"y","type":"quantitative","axis":null},
    "detail":{"field":"id","type":"nominal"},
    "order":{"field":"n","type":"quantitative"},
    "color":{"field":"b","type":"nominal","scale":{"domain":["B","R","G","Y","V"],"range":["#4472C4","#ED7D31","#A5A5A5","#E9AB00","#70AD47"]}},
    "strokeWidth":{"field":"b","type":"nominal","scale":{"type":"ordinal","domain":["B","R","G","Y","V"],"range":[1.3,1.5,2.2,2.8,3.2]}}
   }}
 ]},
{"width":286,"height":316,
 "title":{"text":"(b) Easy","orient":"bottom","anchor":"middle","dx":19,"offset":22,"fontSize":24.5},
 "data":{"name":"gb"},
 "resolve":{"axis":{"y":"independent"}},
 "layer":[
  {"transform":[{"filter":"datum.o=='h'"}],"mark":{"type":"rule","strokeCap":"square"},
   "encoding":{
    "x":{"field":"s","type":"quantitative","scale":{"domain":[0,9],"nice":false,"zero":false},"axis":{"values":[0,1,2,3,4,5,6,7,8,9],"labelExpr":"['10','20','30','40','50','65','80','95','110','125'][datum.value]","title":"Time-steps for Selective Probability Reset Rule (sr)","titleX":157,"labelFontSize":13.5,"titleFontSize":15.5,"tickSize":4,"labelPadding":7,"titlePadding":12,"labelFlush":false,"labelOverlap":false,"labelBound":false}},
    "x2":{"field":"e"},
    "y":{"field":"k","type":"quantitative","scale":{"domain":[0,10],"nice":false,"zero":false},"axis":{"orient":"right","values":[0,1,2,3,4,5,6,7,8,9,10],"labelExpr":"['3','4','5','6.7','8.3','10','12.5','15','20','25','30'][datum.value]","title":"Learning rate ratio (lₚ/lᵣ)","titleAngle":270,"titleBaseline":"top","labelFontSize":13.5,"titleFontSize":16,"tickSize":4,"labelPadding":5,"titlePadding":10,"labelFlush":false,"labelOverlap":false}},
    "color":{"field":"b","type":"nominal","scale":{"domain":["B","R","G","Y","V"],"range":["#4472C4","#ED7D31","#A5A5A5","#E9AB00","#70AD47"]},"legend":{"orient":"none","legendX":-34,"legendY":402,"direction":"horizontal","columns":5,"title":null,"symbolType":"square","symbolSize":81,"symbolFillColor":"#ffffff","labelFontSize":13.4,"labelOffset":1,"columnPadding":5.5,"labelExpr":"datum.label=='B'?'0%-24%':datum.label=='R'?'24%-48%':datum.label=='G'?'48%-72%':datum.label=='Y'?'72%-96%':'96%-100%'"}},
    "strokeWidth":{"field":"b","type":"nominal","scale":{"type":"ordinal","domain":["B","R","G","Y","V"],"range":[1.3,1.5,2.2,2.8,3.2]}}
   }},
  {"transform":[{"filter":"datum.o=='v'"}],"mark":{"type":"rule","strokeCap":"square"},
   "encoding":{
    "x":{"field":"k","type":"quantitative","scale":{"domain":[0,9],"nice":false,"zero":false},"axis":{"values":[0,1,2,3,4,5,6,7,8,9],"labelExpr":"['10','20','30','40','50','65','80','95','110','125'][datum.value]","title":"Time-steps for Selective Probability Reset Rule (sr)","titleX":157,"labelFontSize":13.5,"titleFontSize":15.5,"tickSize":4,"labelPadding":7,"titlePadding":12,"labelFlush":false,"labelOverlap":false,"labelBound":false}},
    "y":{"field":"s","type":"quantitative","axis":{"orient":"left","labels":false,"ticks":false,"title":"Resolution Rate","titleAnchor":"start","titleFontSize":15.5,"titlePadding":4}},
    "y2":{"field":"e"},
    "color":{"field":"b","type":"nominal","scale":{"domain":["B","R","G","Y","V"],"range":["#4472C4","#ED7D31","#A5A5A5","#E9AB00","#70AD47"]}},
    "strokeWidth":{"field":"b","type":"nominal","scale":{"type":"ordinal","domain":["B","R","G","Y","V"],"range":[1.3,1.5,2.2,2.8,3.2]}}
   }}
 ]},
{"width":287,"height":316,
 "title":{"text":"(c) Medium","orient":"bottom","anchor":"middle","dx":18,"offset":22,"fontSize":24.5},
 "data":{"name":"gc"},
 "resolve":{"axis":{"y":"independent"}},
 "layer":[
  {"transform":[{"filter":"datum.o=='h'"}],"mark":{"type":"rule","strokeCap":"square"},
   "encoding":{
    "x":{"field":"s","type":"quantitative","scale":{"domain":[0,9],"nice":false,"zero":false},"axis":{"values":[0,1,2,3,4,5,6,7,8,9],"labelExpr":"['10','20','30','40','50','65','80','95','110','125'][datum.value]","title":"Time-steps for Selective Probability Reset Rule (sr)","titleX":157,"labelFontSize":13.5,"titleFontSize":15.5,"tickSize":4,"labelPadding":7,"titlePadding":12,"labelFlush":false,"labelOverlap":false,"labelBound":false}},
    "x2":{"field":"e"},
    "y":{"field":"k","type":"quantitative","scale":{"domain":[0,10],"nice":false,"zero":false},"axis":{"orient":"right","values":[0,1,2,3,4,5,6,7,8,9,10],"labelExpr":"['3','4','5','6.7','8.3','10','12.5','15','20','25','30'][datum.value]","title":"Learning rate ratio (lₚ/lᵣ)","titleAngle":270,"titleBaseline":"top","labelFontSize":13.5,"titleFontSize":16,"tickSize":4,"labelPadding":5,"titlePadding":10,"labelFlush":false,"labelOverlap":false}},
    "color":{"field":"b","type":"nominal","scale":{"domain":["B","R","G","Y","V"],"range":["#4472C4","#ED7D31","#A5A5A5","#E9AB00","#70AD47"]},"legend":{"orient":"none","legendX":-33.5,"legendY":402,"direction":"horizontal","columns":5,"title":null,"symbolType":"square","symbolSize":81,"symbolFillColor":"#ffffff","labelFontSize":13.4,"labelOffset":1,"columnPadding":5.5,"labelExpr":"datum.label=='B'?'0%-24%':datum.label=='R'?'24%-48%':datum.label=='G'?'48%-72%':datum.label=='Y'?'72%-96%':'96%-100%'"}},
    "strokeWidth":{"field":"b","type":"nominal","scale":{"type":"ordinal","domain":["B","R","G","Y","V"],"range":[1.3,1.5,2.2,2.8,3.2]}}
   }},
  {"transform":[{"filter":"datum.o=='v'"}],"mark":{"type":"rule","strokeCap":"square"},
   "encoding":{
    "x":{"field":"k","type":"quantitative","scale":{"domain":[0,9],"nice":false,"zero":false},"axis":{"values":[0,1,2,3,4,5,6,7,8,9],"labelExpr":"['10','20','30','40','50','65','80','95','110','125'][datum.value]","title":"Time-steps for Selective Probability Reset Rule (sr)","titleX":157,"labelFontSize":13.5,"titleFontSize":15.5,"tickSize":4,"labelPadding":7,"titlePadding":12,"labelFlush":false,"labelOverlap":false,"labelBound":false}},
    "y":{"field":"s","type":"quantitative","axis":{"orient":"left","labels":false,"ticks":false,"title":"Resolution Rate","titleAnchor":"start","titleFontSize":15.5,"titlePadding":4}},
    "y2":{"field":"e"},
    "color":{"field":"b","type":"nominal","scale":{"domain":["B","R","G","Y","V"],"range":["#4472C4","#ED7D31","#A5A5A5","#E9AB00","#70AD47"]}},
    "strokeWidth":{"field":"b","type":"nominal","scale":{"type":"ordinal","domain":["B","R","G","Y","V"],"range":[1.3,1.5,2.2,2.8,3.2]}}
   }},
  {"data":{"name":"cc"},"mark":{"type":"line","strokeJoin":"round","strokeCap":"round"},
   "encoding":{
    "x":{"field":"x","type":"quantitative","scale":{"domain":[0,9],"nice":false,"zero":false},"axis":{"values":[0,1,2,3,4,5,6,7,8,9],"labelExpr":"['10','20','30','40','50','65','80','95','110','125'][datum.value]","title":"Time-steps for Selective Probability Reset Rule (sr)","titleX":157,"labelFontSize":13.5,"titleFontSize":15.5,"tickSize":4,"labelPadding":7,"titlePadding":12,"labelFlush":false,"labelOverlap":false,"labelBound":false}},
    "y":{"field":"y","type":"quantitative","axis":null},
    "detail":{"field":"id","type":"nominal"},
    "order":{"field":"n","type":"quantitative"},
    "color":{"field":"b","type":"nominal","scale":{"domain":["B","R","G","Y","V"],"range":["#4472C4","#ED7D31","#A5A5A5","#E9AB00","#70AD47"]}},
    "strokeWidth":{"field":"b","type":"nominal","scale":{"type":"ordinal","domain":["B","R","G","Y","V"],"range":[1.3,1.5,2.2,2.8,3.2]}}
   }}
 ]}
],"spacing":166,"bounds":"flush","resolve":{"legend":{"color":"independent","strokeWidth":"independent"}}},
{"hconcat":[
{"width":67.4,"height":1,"data":{"values":[]},"mark":"point","view":{"stroke":null}},
{"hconcat":[
{"width":391,"height":431,
 "title":{"text":"(d) Hard","orient":"bottom","anchor":"middle","dx":25,"offset":30.7,"fontSize":24.5},
 "data":{"name":"gd"},
 "resolve":{"axis":{"y":"independent"}},
 "layer":[
  {"transform":[{"filter":"datum.o=='h'"}],"mark":{"type":"rule","strokeCap":"square"},
   "encoding":{
    "x":{"field":"s","type":"quantitative","scale":{"domain":[0,9],"nice":false,"zero":false},"axis":{"values":[0,1,2,3,4,5,6,7,8,9],"labelExpr":"['10','20','30','40','50','65','80','95','110','125'][datum.value]","title":"Time-steps for Selective Probability Reset Rule (sr)","titleX":214,"labelFontSize":18.5,"titleFontSize":21.5,"tickSize":5,"labelPadding":12.5,"titlePadding":14,"labelFlush":false,"labelOverlap":false,"labelBound":false}},
    "x2":{"field":"e"},
    "y":{"field":"k","type":"quantitative","scale":{"domain":[0,10],"nice":false,"zero":false},"axis":{"orient":"right","values":[0,1,2,3,4,5,6,7,8,9,10],"labelExpr":"['3','4','5','6.7','8.3','10','12.5','15','20','25','30'][datum.value]","title":"Learning rate ratio (lₚ/lᵣ)","titleAngle":270,"titleBaseline":"top","labelFontSize":18.5,"titleFontSize":21.5,"tickSize":5,"labelPadding":7,"titlePadding":10,"labelFlush":false,"labelOverlap":false}},
    "color":{"field":"b","type":"nominal","scale":{"domain":["B","R","G","Y","V"],"range":["#4472C4","#ED7D31","#A5A5A5","#E9AB00","#70AD47"]},"legend":{"orient":"none","legendX":-43,"legendY":549,"direction":"horizontal","columns":5,"title":null,"symbolType":"square","symbolSize":144,"symbolFillColor":"#ffffff","labelFontSize":18,"labelOffset":3,"columnPadding":9,"labelExpr":"datum.label=='B'?'0%-24%':datum.label=='R'?'24%-48%':datum.label=='G'?'48%-72%':datum.label=='Y'?'72%-96%':'96%-100%'"}},
    "strokeWidth":{"field":"b","type":"nominal","scale":{"type":"ordinal","domain":["B","R","G","Y","V"],"range":[1.3,1.5,2.2,2.8,3.2]}}
   }},
  {"transform":[{"filter":"datum.o=='v'"}],"mark":{"type":"rule","strokeCap":"square"},
   "encoding":{
    "x":{"field":"k","type":"quantitative","scale":{"domain":[0,9],"nice":false,"zero":false},"axis":{"values":[0,1,2,3,4,5,6,7,8,9],"labelExpr":"['10','20','30','40','50','65','80','95','110','125'][datum.value]","title":"Time-steps for Selective Probability Reset Rule (sr)","titleX":214,"labelFontSize":18.5,"titleFontSize":21.5,"tickSize":5,"labelPadding":12.5,"titlePadding":14,"labelFlush":false,"labelOverlap":false,"labelBound":false}},
    "y":{"field":"s","type":"quantitative","axis":{"orient":"left","labels":false,"ticks":false,"title":"Resolution Rate","titleAnchor":"start","titleFontSize":21.5,"titlePadding":6}},
    "y2":{"field":"e"},
    "color":{"field":"b","type":"nominal","scale":{"domain":["B","R","G","Y","V"],"range":["#4472C4","#ED7D31","#A5A5A5","#E9AB00","#70AD47"]}},
    "strokeWidth":{"field":"b","type":"nominal","scale":{"type":"ordinal","domain":["B","R","G","Y","V"],"range":[1.3,1.5,2.2,2.8,3.2]}}
   }},
  {"data":{"name":"cd"},"mark":{"type":"line","strokeJoin":"round","strokeCap":"round"},
   "encoding":{
    "x":{"field":"x","type":"quantitative","scale":{"domain":[0,9],"nice":false,"zero":false},"axis":{"values":[0,1,2,3,4,5,6,7,8,9],"labelExpr":"['10','20','30','40','50','65','80','95','110','125'][datum.value]","title":"Time-steps for Selective Probability Reset Rule (sr)","titleX":214,"labelFontSize":18.5,"titleFontSize":21.5,"tickSize":5,"labelPadding":12.5,"titlePadding":14,"labelFlush":false,"labelOverlap":false,"labelBound":false}},
    "y":{"field":"y","type":"quantitative","axis":null},
    "detail":{"field":"id","type":"nominal"},
    "order":{"field":"n","type":"quantitative"},
    "color":{"field":"b","type":"nominal","scale":{"domain":["B","R","G","Y","V"],"range":["#4472C4","#ED7D31","#A5A5A5","#E9AB00","#70AD47"]}},
    "strokeWidth":{"field":"b","type":"nominal","scale":{"type":"ordinal","domain":["B","R","G","Y","V"],"range":[1.3,1.5,2.2,2.8,3.2]}}
   }}
 ]},
{"width":392,"height":431,
 "title":{"text":"(e) Evil","orient":"bottom","anchor":"middle","dx":22,"offset":30.7,"fontSize":24.5},
 "data":{"name":"ge"},
 "resolve":{"axis":{"y":"independent"}},
 "layer":[
  {"transform":[{"filter":"datum.o=='h'"}],"mark":{"type":"rule","strokeCap":"square"},
   "encoding":{
    "x":{"field":"s","type":"quantitative","scale":{"domain":[0,9],"nice":false,"zero":false},"axis":{"values":[0,1,2,3,4,5,6,7,8,9],"labelExpr":"['10','20','30','40','50','65','80','95','110','125'][datum.value]","title":"Time-steps for Selective Probability Reset Rule (sr)","titleX":214,"labelFontSize":18.5,"titleFontSize":21.5,"tickSize":5,"labelPadding":12.5,"titlePadding":14,"labelFlush":false,"labelOverlap":false,"labelBound":false}},
    "x2":{"field":"e"},
    "y":{"field":"k","type":"quantitative","scale":{"domain":[0,10],"nice":false,"zero":false},"axis":{"orient":"right","values":[0,1,2,3,4,5,6,7,8,9,10],"labelExpr":"['3','4','5','6.7','8.3','10','12.5','15','20','25','30'][datum.value]","title":"Learning rate ratio (lₚ/lᵣ)","titleAngle":270,"titleBaseline":"top","labelFontSize":18.5,"titleFontSize":21.5,"tickSize":5,"labelPadding":7,"titlePadding":10,"labelFlush":false,"labelOverlap":false}},
    "color":{"field":"b","type":"nominal","scale":{"domain":["B","R","G","Y","V"],"range":["#4472C4","#ED7D31","#A5A5A5","#E9AB00","#70AD47"]},"legend":{"orient":"none","legendX":-43,"legendY":549,"direction":"horizontal","columns":5,"title":null,"symbolType":"square","symbolSize":144,"symbolFillColor":"#ffffff","labelFontSize":18,"labelOffset":3,"columnPadding":9,"labelExpr":"datum.label=='B'?'0%-24%':datum.label=='R'?'24%-48%':datum.label=='G'?'48%-72%':datum.label=='Y'?'72%-96%':'96%-100%'"}},
    "strokeWidth":{"field":"b","type":"nominal","scale":{"type":"ordinal","domain":["B","R","G","Y","V"],"range":[1.3,1.5,2.2,2.8,3.2]}}
   }},
  {"transform":[{"filter":"datum.o=='v'"}],"mark":{"type":"rule","strokeCap":"square"},
   "encoding":{
    "x":{"field":"k","type":"quantitative","scale":{"domain":[0,9],"nice":false,"zero":false},"axis":{"values":[0,1,2,3,4,5,6,7,8,9],"labelExpr":"['10','20','30','40','50','65','80','95','110','125'][datum.value]","title":"Time-steps for Selective Probability Reset Rule (sr)","titleX":214,"labelFontSize":18.5,"titleFontSize":21.5,"tickSize":5,"labelPadding":12.5,"titlePadding":14,"labelFlush":false,"labelOverlap":false,"labelBound":false}},
    "y":{"field":"s","type":"quantitative","axis":{"orient":"left","labels":false,"ticks":false,"title":"Resolution Rate","titleAnchor":"start","titleFontSize":21.5,"titlePadding":6}},
    "y2":{"field":"e"},
    "color":{"field":"b","type":"nominal","scale":{"domain":["B","R","G","Y","V"],"range":["#4472C4","#ED7D31","#A5A5A5","#E9AB00","#70AD47"]}},
    "strokeWidth":{"field":"b","type":"nominal","scale":{"type":"ordinal","domain":["B","R","G","Y","V"],"range":[1.3,1.5,2.2,2.8,3.2]}}
   }},
  {"data":{"name":"ce"},"mark":{"type":"line","strokeJoin":"round","strokeCap":"round"},
   "encoding":{
    "x":{"field":"x","type":"quantitative","scale":{"domain":[0,9],"nice":false,"zero":false},"axis":{"values":[0,1,2,3,4,5,6,7,8,9],"labelExpr":"['10','20','30','40','50','65','80','95','110','125'][datum.value]","title":"Time-steps for Selective Probability Reset Rule (sr)","titleX":214,"labelFontSize":18.5,"titleFontSize":21.5,"tickSize":5,"labelPadding":12.5,"titlePadding":14,"labelFlush":false,"labelOverlap":false,"labelBound":false}},
    "y":{"field":"y","type":"quantitative","axis":null},
    "detail":{"field":"id","type":"nominal"},
    "order":{"field":"n","type":"quantitative"},
    "color":{"field":"b","type":"nominal","scale":{"domain":["B","R","G","Y","V"],"range":["#4472C4","#ED7D31","#A5A5A5","#E9AB00","#70AD47"]}},
    "strokeWidth":{"field":"b","type":"nominal","scale":{"type":"ordinal","domain":["B","R","G","Y","V"],"range":[1.3,1.5,2.2,2.8,3.2]}}
   }}
 ]}
],"spacing":263.7,"bounds":"flush","resolve":{"legend":{"color":"independent","strokeWidth":"independent"}}}
],"spacing":0,"bounds":"flush","resolve":{"legend":{"color":"independent","strokeWidth":"independent"}}}
],
"config":{
 "view":{"stroke":"#D9D9D9","strokeWidth":1},
 "axis":{"grid":false,"domain":false,"labelOverlap":false,"tickColor":"#BFBFBF","labelColor":"#595959","titleColor":"#595959","labelFont":"Lato","titleFont":"Lato","titleFontWeight":"normal"},
 "legend":{"labelFont":"Lato","labelColor":"#595959"},
 "title":{"font":"Liberation Serif","fontWeight":"normal","color":"#000000"}
}
}
